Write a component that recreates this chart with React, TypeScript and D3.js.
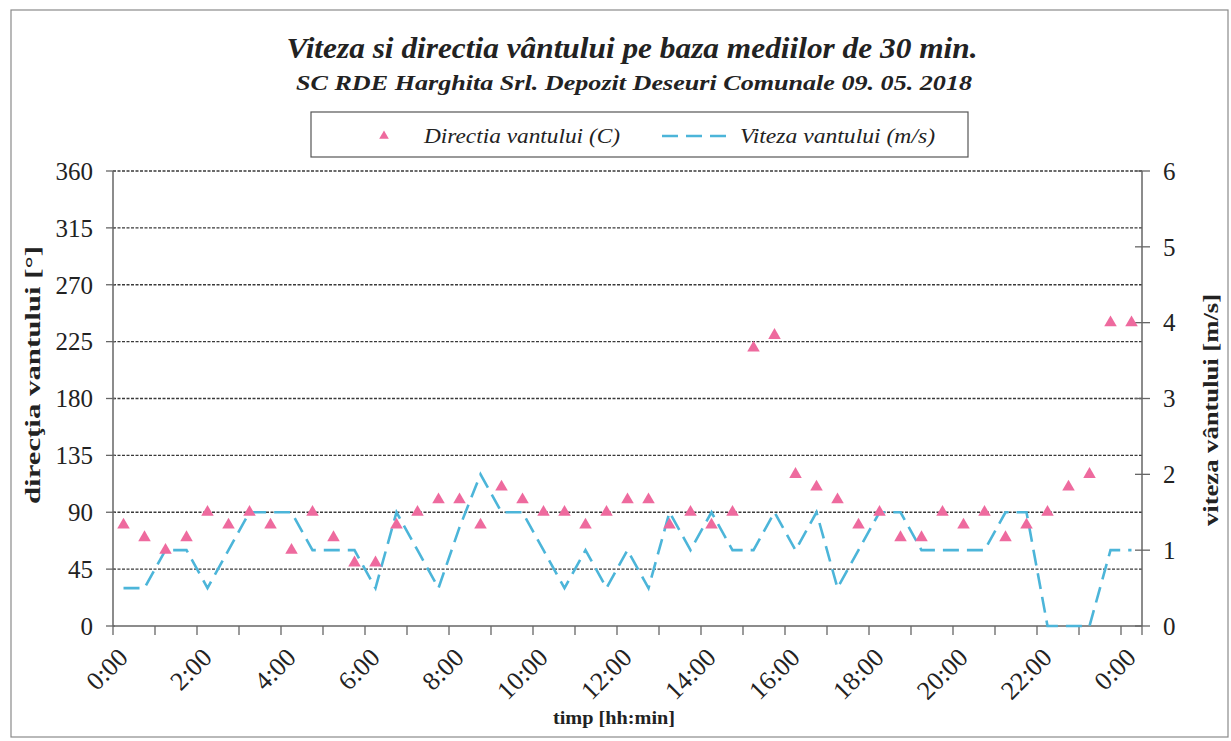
import React from "react";
import * as d3 from "d3";

// Half-hourly timestamps for 09.05.2018 (last one is midnight of the next day)
const times: string[] = [
  "0:00", "0:30", "1:00", "1:30", "2:00", "2:30", "3:00", "3:30",
  "4:00", "4:30", "5:00", "5:30", "6:00", "6:30", "7:00", "7:30",
  "8:00", "8:30", "9:00", "9:30", "10:00", "10:30", "11:00", "11:30",
  "12:00", "12:30", "13:00", "13:30", "14:00", "14:30", "15:00", "15:30",
  "16:00", "16:30", "17:00", "17:30", "18:00", "18:30", "19:00", "19:30",
  "20:00", "20:30", "21:00", "21:30", "22:00", "22:30", "23:00", "23:30",
  "0:00",
];

// Wind direction, degrees
const direction: number[] = [
  80, 70, 60, 70, 90, 80, 90, 80,
  60, 90, 70, 50, 50, 80, 90, 100,
  100, 80, 110, 100, 90, 90, 80, 90,
  100, 100, 80, 90, 80, 90, 220, 230,
  120, 110, 100, 80, 90, 70, 70, 90,
  80, 90, 70, 80, 90, 110, 120, 240,
  240,
];

// Wind speed, m/s
const speed: number[] = [
  0.5, 0.5, 1.0, 1.0, 0.5, 1.0, 1.5, 1.5,
  1.5, 1.0, 1.0, 1.0, 0.5, 1.5, 1.0, 0.5,
  1.3, 2.0, 1.5, 1.5, 1.0, 0.5, 1.0, 0.5,
  1.0, 0.5, 1.5, 1.0, 1.5, 1.0, 1.0, 1.5,
  1.0, 1.5, 0.5, 1.0, 1.5, 1.5, 1.0, 1.0,
  1.0, 1.0, 1.5, 1.5, 0.0, 0.0, 0.0, 1.0,
  1.0,
];

const dirTicks: number[] = [0, 45, 90, 135, 180, 225, 270, 315, 360];
const speedTicks: number[] = [0, 1, 2, 3, 4, 5, 6];
// labelled categories on the time axis (every 2 hours)
const labelIndex: number[] = [0, 4, 8, 12, 16, 20, 24, 28, 32, 36, 40, 44, 48];

const W = 1231;
const H = 741;
const plot = { left: 113, right: 1142, top: 171, bottom: 626 };

const PINK = "#EE6A9E";
const BLUE = "#4CB5D9";
const SERIF = '"Liberation Serif", Tinos, "Times New Roman", Times, serif';

export default function App() {
  const idx = d3.range(times.length);
  const x = d3
    .scaleBand<number>()
    .domain(idx)
    .range([plot.left, plot.right])
    .padding(0);
  const cx = (i: number) => (x(i) as number) + x.bandwidth() / 2;

  const yDir = d3.scaleLinear().domain([0, 360]).range([plot.bottom, plot.top]);
  const ySpd = d3.scaleLinear().domain([0, 6]).range([plot.bottom, plot.top]);

  const speedLine = d3
    .line<number>()
    .x((_, i) => cx(i))
    .y((v) => ySpd(v))(speed) as string;

  const tri = d3.symbol().type(d3.symbolTriangle).size(68)() as string;
  const triSmall = d3.symbol().type(d3.symbolTriangle).size(40)() as string;

  // minor ticks on the time axis sit on every second band edge
  const xTickPos: number[] = d3
    .range(0, times.length, 2)
    .map((i) => x(i) as number)
    .concat([plot.right]);

  const txt = { fontFamily: SERIF } as React.CSSProperties;

  return (
    <svg
      width={W}
      height={H}
      style={{ position: "absolute", left: 0, top: 0, background: "#fff", fontFamily: SERIF }}
    >
      <rect x={0} y={0} width={W} height={H} fill="#fff" />
      {/* chart frame */}
      <rect x={11} y={10} width={1217} height={727} fill="none" stroke="#8a8a8a" strokeWidth={1.2} />

      {/* titles */}
      <text
        x={632}
        y={58}
        textAnchor="middle"
        fontSize={30}
        fontWeight="bold"
        fontStyle="italic"
        fill="#222"
        style={txt}
        textLength={691}
        lengthAdjust="spacingAndGlyphs"
      >
        Viteza si directia vântului pe baza mediilor de 30 min.
      </text>
      <text
        x={634}
        y={90}
        textAnchor="middle"
        fontSize={22}
        fontWeight="bold"
        fontStyle="italic"
        fill="#222"
        style={txt}
        textLength={676}
        lengthAdjust="spacingAndGlyphs"
      >
        SC RDE Harghita Srl. Depozit Deseuri Comunale 09. 05. 2018
      </text>

      {/* legend */}
      <rect x={311} y={112} width={657} height={45} fill="#fff" stroke="#555" strokeWidth={1.2} />
      <path d={triSmall} transform="translate(384,136)" fill={PINK} />
      <text
        x={424}
        y={143}
        fontSize={20}
        fontStyle="italic"
        fill="#222"
        style={txt}
        textLength={196}
        lengthAdjust="spacingAndGlyphs"
      >
        Directia vantului (C)
      </text>
      <line x1={662} x2={734} y1={136} y2={136} stroke={BLUE} strokeWidth={2.6} strokeDasharray="16,8" />
      <text
        x={740}
        y={143}
        fontSize={20}
        fontStyle="italic"
        fill="#222"
        style={txt}
        textLength={195}
        lengthAdjust="spacingAndGlyphs"
      >
        Viteza vantului (m/s)
      </text>

      {/* horizontal gridlines */}
      {dirTicks
        .filter((t) => t > 0)
        .map((t) => (
          <line
            key={"g" + t}
            x1={plot.left}
            x2={plot.right}
            y1={yDir(t)}
            y2={yDir(t)}
            stroke="#3a3a3a"
            strokeWidth={1.3}
            strokeDasharray="3,1.5"
          />
        ))}

      {/* axes */}
      <line x1={plot.left} x2={plot.left} y1={plot.top} y2={plot.bottom} stroke="#666" strokeWidth={1.5} />
      <line x1={plot.right} x2={plot.right} y1={plot.top} y2={plot.bottom} stroke="#666" strokeWidth={1.5} />
      <line x1={plot.left} x2={plot.right} y1={plot.bottom} y2={plot.bottom} stroke="#666" strokeWidth={1.5} />

      {/* left axis */}
      {dirTicks.map((t) => (
        <g key={"l" + t}>
          <line x1={plot.left - 7} x2={plot.left + 2} y1={yDir(t)} y2={yDir(t)} stroke="#666" strokeWidth={1.3} />
          <text x={93} y={yDir(t)} dy="0.35em" textAnchor="end" fontSize={25} fill="#222" style={txt}>
            {t}
          </text>
        </g>
      ))}

      {/* right axis */}
      {speedTicks.map((t) => (
        <g key={"r" + t}>
          <line x1={plot.right - 7} x2={plot.right + 8} y1={ySpd(t)} y2={ySpd(t)} stroke="#666" strokeWidth={1.3} />
          <text x={1163} y={ySpd(t)} dy="0.35em" textAnchor="start" fontSize={25} fill="#222" style={txt}>
            {t}
          </text>
        </g>
      ))}

      {/* time axis */}
      {xTickPos.map((p, i) => (
        <line key={"t" + i} x1={p} x2={p} y1={plot.bottom} y2={plot.bottom + 9} stroke="#666" strokeWidth={1.3} />
      ))}
      {labelIndex.map((i) => (
        <text
          key={"xl" + i}
          transform={`translate(${cx(i) + 6},${plot.bottom + 33}) rotate(-45)`}
          textAnchor="end"
          fontSize={26}
          fill="#222"
          style={txt}
        >
          {times[i]}
        </text>
      ))}

      {/* axis titles */}
      <text
        transform="translate(40,375) rotate(-90)"
        textAnchor="middle"
        fontSize={21}
        fontWeight="bold"
        fill="#222"
        style={txt}
        textLength={258}
        lengthAdjust="spacingAndGlyphs"
      >
        direcţia vantului [°]
      </text>
      <text
        transform="translate(1218,410) rotate(-90)"
        textAnchor="middle"
        fontSize={22}
        fontWeight="bold"
        fill="#222"
        style={txt}
        textLength={232}
        lengthAdjust="spacingAndGlyphs"
      >
        viteza vântului [m/s]
      </text>
      <text
        x={614}
        y={724}
        textAnchor="middle"
        fontSize={18}
        fontWeight="bold"
        fill="#222"
        style={txt}
        textLength={122}
        lengthAdjust="spacingAndGlyphs"
      >
        timp [hh:min]
      </text>

      {/* wind speed series */}
      <path d={speedLine} fill="none" stroke={BLUE} strokeWidth={2.6} strokeDasharray="16,8" />

      {/* wind direction markers */}
      {direction.map((v, i) => (
        <path key={"d" + i} d={tri} transform={`translate(${cx(i)},${yDir(v)})`} fill={PINK} />
      ))}
    </svg>
  );
}
